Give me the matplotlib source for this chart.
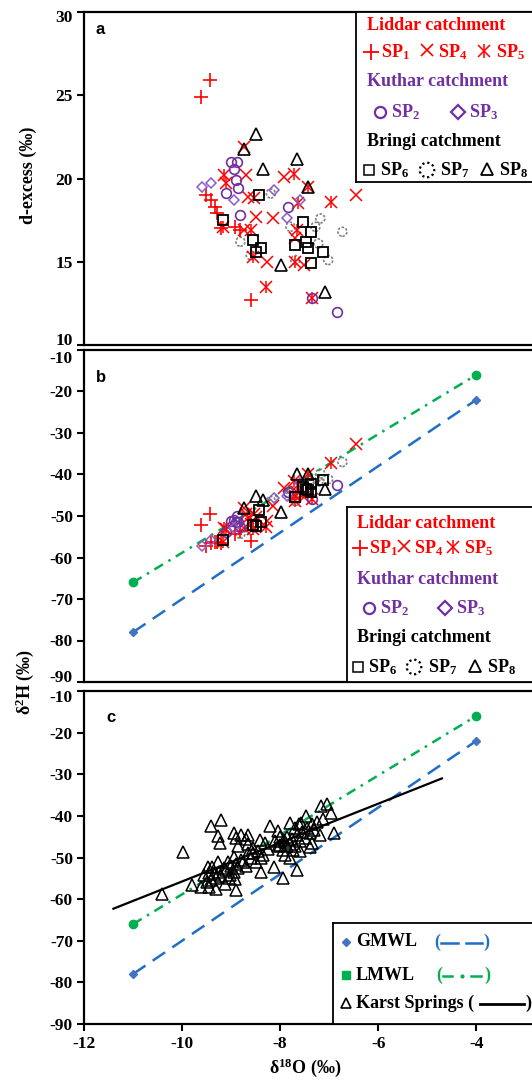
import numpy as np
import matplotlib.pyplot as plt
from matplotlib.transforms import ScaledTranslation

plt.rcParams['font.family'] = ['Liberation Serif', 'DejaVu Serif']
plt.rcParams['font.weight'] = 'bold'
plt.rcParams['axes.unicode_minus'] = False
plt.rcParams['mathtext.fontset'] = 'custom'
plt.rcParams['mathtext.rm'] = 'Liberation Serif:bold'
plt.rcParams['mathtext.it'] = 'Liberation Serif:bold'
plt.rcParams['mathtext.bf'] = 'Liberation Serif:bold'

W, H = 532, 1085
RED = '#FF0000'
PURPLE = '#7030A0'
BLUE = '#1F6FC5'
GREEN = '#00B050'

# spring samples: d18O, d-excess and d2H (per mil)
sp1_d18o = [-9.62, -9.44, -9.52, -9.40, -9.33, -9.28, -9.20, -8.92, -8.60, -8.82]
sp1_dex = [24.9, 25.9, 19.0, 18.7, 18.3, 17.9, 17.0, 17.1, 12.7, 16.9]
sp1_d2h = [-52.1, -49.6, -57.2, -56.5, -56.3, -56.3, -56.6, -54.3, -56.1, -53.7]

sp2_d18o = [-9.01, -8.87, -8.95, -8.91, -8.85, -9.11, -8.81, -7.83, -6.83, -7.34]
sp2_dex = [21.0, 21.0, 20.6, 19.9, 19.4, 19.1, 17.8, 18.3, 12.0, 12.8]
sp2_d2h = [-51.1, -50.0, -51.0, -51.4, -51.4, -53.8, -52.7, -44.3, -42.6, -45.9]

sp3_d18o = [-9.60, -9.42, -8.95, -7.85, -7.59, -8.13]
sp3_dex = [19.5, 19.7, 18.7, 17.6, 18.7, 19.3]
sp3_d2h = [-57.3, -55.7, -52.9, -45.2, -42.0, -45.7]

sp4_d18o = [-8.70, -8.74, -8.54, -8.66, -8.50, -8.15, -7.93, -6.45, -8.26, -7.52, -8.74, -7.70]
sp4_dex = [20.2, 21.9, 18.8, 18.9, 17.7, 17.6, 20.1, 19.0, 15.0, 14.8, 16.9, 16.4]
sp4_d2h = [-49.4, -48.0, -49.5, -50.4, -50.3, -47.6, -43.3, -32.6, -51.1, -45.4, -53.0, -45.2]

sp5_d18o = [-9.15, -7.72, -7.44, -6.97, -7.63, -8.28, -7.34, -7.65, -7.69, -8.56, -9.17, -8.60, -9.11]
sp5_dex = [20.2, 20.3, 19.5, 18.6, 18.5, 13.5, 12.8, 16.9, 15.0, 15.3, 17.1, 16.9, 19.7]
sp5_d2h = [-53.0, -41.5, -40.0, -37.2, -42.5, -52.7, -45.9, -44.3, -46.5, -53.2, -56.3, -51.9, -53.2]

sp6_d18o = [-8.44, -9.17, -8.56, -8.40, -8.50, -7.69, -7.48, -7.44, -7.38, -7.12, -7.38, -7.54]
sp6_dex = [19.0, 17.5, 16.3, 15.8, 15.6, 16.0, 16.2, 15.8, 16.8, 15.6, 14.9, 17.4]
sp6_d2h = [-48.5, -55.9, -52.2, -51.4, -52.4, -45.5, -43.6, -43.7, -42.2, -41.4, -44.1, -42.9]

sp7_d18o = [-8.19, -8.81, -7.79, -7.22, -7.02, -6.73, -7.28, -7.18, -8.60, -7.69]
sp7_dex = [19.1, 16.2, 17.1, 16.1, 15.1, 16.8, 17.1, 17.6, 15.4, 15.1]
sp7_d2h = [-46.4, -54.3, -45.2, -41.7, -41.1, -37.0, -41.1, -39.8, -53.4, -46.4]

sp8_d18o = [-8.50, -8.74, -8.34, -7.65, -7.99, -7.08, -7.44]
sp8_dex = [22.7, 21.8, 20.6, 21.2, 14.8, 13.2, 19.5]
sp8_d2h = [-45.3, -48.1, -46.1, -40.0, -49.1, -43.4, -40.0]

# all karst spring samples
karst_d18o = [-10.40, -9.99, -9.80, -9.62, -9.46, -9.31, -8.90, -7.95, -9.42, -9.21,
              -9.27, -9.22, -8.95, -8.90, -8.66, -8.42, -8.20, -8.05, -7.80, -7.58,
              -7.48, -7.16, -7.04, -6.97, -7.12, -7.18, -6.91, -7.34, -7.65, -8.13,
              -8.40, -8.40, -8.05, -7.93, -7.85, -7.73, -8.85, -8.66, -8.95, -9.07,
              -9.27, -9.48, -9.56, -9.38,
              -9.40, -9.35, -9.30, -9.25, -9.20, -9.15, -9.10, -9.05, -9.00, -8.95,
              -8.90, -8.85, -8.80, -8.75, -9.50, -9.45, -9.12, -9.02, -8.92, -8.70,
              -8.60, -8.55, -8.50, -8.65, -8.55, -8.45, -8.35, -8.25, -8.30, -8.70,
              -8.80,
              -8.10, -8.00, -7.95, -7.90, -7.85, -7.80, -7.75, -7.70, -7.65, -7.60,
              -7.55, -7.50, -7.45, -7.40, -7.35, -7.30, -7.25, -7.90, -7.80, -8.00,
              -7.70, -7.60, -7.40, -7.62]
karst_d2h = [-58.7, -48.6, -56.5, -57.0, -57.0, -57.6, -57.7, -55.0, -42.5, -41.0,
             -44.9, -46.4, -44.0, -45.2, -44.5, -45.7, -42.5, -43.7, -41.6, -41.6,
             -40.1, -37.7, -37.2, -39.2, -40.8, -44.5, -44.0, -46.4, -52.9, -52.4,
             -53.6, -50.0, -47.3, -45.7, -47.3, -48.1, -47.3, -48.8, -49.8, -51.2,
             -51.0, -52.2, -54.1, -52.2,
             -55.5, -54.0, -55.0, -53.5, -54.5, -52.5, -53.0, -55.0, -52.0, -53.5,
             -51.5, -52.5, -50.5, -51.0, -55.8, -53.8, -56.3, -54.2, -55.2, -52.0,
             -50.0, -49.0, -51.2, -46.8, -47.8, -48.5, -49.5, -48.0, -46.5, -45.5,
             -44.5,
             -46.0, -47.0, -48.2, -46.2, -45.0, -46.8, -45.5, -47.2, -44.5, -46.0,
             -43.8, -45.2, -42.8, -44.2, -42.0, -43.3, -41.5, -49.5, -50.2, -45.0,
             -43.0, -48.5, -47.5, -42.0]

# meteoric water lines and karst regression line
mwl_d18o = [-11, -4]
gmwl_d2h = [-78, -22]
lmwl_d2h = [-66, -16]
karst_fit_d18o = [-11.4, -4.7]
karst_fit_d2h = [-62.3, -31.0]

XLIM = (-12, -2.7)
LEFT_PX, RIGHT_PX = 84, 540

fig = plt.figure(figsize=(W / 100, H / 100), dpi=100)


def px_axes(top, bottom, left=LEFT_PX, right=RIGHT_PX):
    return fig.add_axes([left / W, 1 - bottom / H, (right - left) / W, (bottom - top) / H])


def style_axes(ax, ylim, yticks, xticks=False):
    ax.set_xlim(*XLIM)
    ax.set_ylim(*ylim)
    ax.set_yticks(yticks)
    for s in ax.spines.values():
        s.set_linewidth(1.6)
    ax.tick_params(axis='y', direction='out', length=5, width=1.5, labelsize=12.5, pad=3)
    if xticks:
        ax.set_xticks([-12, -10, -8, -6, -4])
        ax.tick_params(axis='x', direction='out', length=5, width=1.5, labelsize=12.5, pad=4)
    else:
        ax.set_xticks([])
    for lab in ax.get_xticklabels() + ax.get_yticklabels():
        lab.set_fontweight('bold')


def nudge_edge_labels(ax, bottom_px, top_px):
    # keep the end labels of stacked panels clear of each other
    ticks = ax.yaxis.get_major_ticks()
    for tick, dy in ((ticks[0], bottom_px), (ticks[-1], top_px)):
        lab = tick.label1
        lab.set_transform(lab.get_transform() + ScaledTranslation(0, -dy / 100, fig.dpi_scale_trans))


def asterisk(ax, x, y, ms=8):
    ax.plot(x, y, ls='none', marker='x', ms=ms, mec=RED, mew=1.1)
    ax.plot(x, y, ls='none', marker='|', ms=ms + 1, mec=RED, mew=1.1)


def plot_springs(ax, which):
    def pick(dex, d2h):
        return dex if which == 'dex' else d2h
    ax.plot(sp1_d18o, pick(sp1_dex, sp1_d2h), ls='none', marker='+', ms=10, mec=RED, mew=1.2)
    ax.plot(sp4_d18o, pick(sp4_dex, sp4_d2h), ls='none', marker='x', ms=9, mec=RED, mew=1.1)
    asterisk(ax, sp5_d18o, pick(sp5_dex, sp5_d2h))
    ax.plot(sp2_d18o, pick(sp2_dex, sp2_d2h), ls='none', marker='o', ms=7, mfc='none', mec=PURPLE, mew=1.2)
    ax.plot(sp3_d18o, pick(sp3_dex, sp3_d2h), ls='none', marker='D', ms=5.5, mfc='none', mec='#8A5CC8', mew=1.1)
    ax.plot(sp6_d18o, pick(sp6_dex, sp6_d2h), ls='none', marker='s', ms=7, mfc='none', mec='black', mew=1.3)
    ax.scatter(sp7_d18o, pick(sp7_dex, sp7_d2h), s=42, facecolors='none', edgecolors='#808080',
               linewidths=1.2, linestyle=(0, (1.5, 1)))
    ax.plot(sp8_d18o, pick(sp8_dex, sp8_d2h), ls='none', marker='^', ms=9, mfc='none', mec='black', mew=1.2)


def plot_mwl(ax):
    ax.plot(mwl_d18o, lmwl_d2h, color=GREEN, lw=1.8, dashes=(4, 2.5, 1, 2.5))
    ax.plot(mwl_d18o, lmwl_d2h, ls='none', marker='o', ms=6, color=GREEN)
    ax.plot(mwl_d18o, gmwl_d2h, color=BLUE, lw=1.8, dashes=(6, 3.5))
    ax.plot(mwl_d18o, gmwl_d2h, ls='none', marker='D', ms=4, color='#4472C4')


def legend_box(left, top, bottom, right=RIGHT_PX):
    lg = px_axes(top, bottom, left, right)
    lg.set_xlim(left, right)
    lg.set_ylim(bottom, top)
    lg.set_xticks([])
    lg.set_yticks([])
    for s in lg.spines.values():
        s.set_linewidth(1.3)
    return lg


def catchment_legend(left, top, bottom, rows, xs):
    lg = legend_box(left, top, bottom)
    kw = dict(va='center', ha='left', fontsize=13, fontweight='bold')
    lg.text(xs['title'], rows[0], 'Liddar catchment', color=RED, **kw)
    lg.plot(xs['m1'], rows[1], marker='+', ms=11, mec=RED, mew=1.3)
    lg.text(xs['t1'], rows[1], 'SP$_1$', color=RED, **kw)
    lg.plot(xs['m4'], rows[1] - 2, marker='x', ms=9, mec=RED, mew=1.2)
    lg.text(xs['t4'], rows[1], 'SP$_4$', color=RED, **kw)
    asterisk(lg, [xs['m5']], [rows[1] - 1], ms=9)
    lg.text(xs['t5'], rows[1], 'SP$_5$', color=RED, **kw)
    lg.text(xs['title'], rows[2], 'Kuthar catchment', color=PURPLE, **kw)
    lg.plot(xs['m2'], rows[3], marker='o', ms=8, mfc='none', mec=PURPLE, mew=1.6)
    lg.text(xs['t2'], rows[3], 'SP$_2$', color=PURPLE, **kw)
    lg.plot(xs['m3'], rows[3], marker='D', ms=7.5, mfc='none', mec=PURPLE, mew=1.6)
    lg.text(xs['t3'], rows[3], 'SP$_3$', color=PURPLE, **kw)
    lg.text(xs['title'], rows[4], 'Bringi catchment', color='black', **kw)
    lg.plot(xs['m6'], rows[5], marker='s', ms=7.5, mfc='none', mec='black', mew=1.1)
    lg.text(xs['t6'], rows[5], 'SP$_6$', color='black', **kw)
    lg.scatter([xs['m7']], [rows[5]], s=110, facecolors='none', edgecolors='black',
               linewidths=1.6, linestyle=(0, (1, 1.3)))
    lg.text(xs['t7'], rows[5], 'SP$_7$', color='black', **kw)
    lg.plot(xs['m8'], rows[5] - 1, marker='^', ms=9, mfc='none', mec='black', mew=1.3)
    lg.text(xs['t8'], rows[5], 'SP$_8$', color='black', **kw)


def panel_letter(x, y, s):
    fig.text(x / W, 1 - y / H, s, family='Liberation Sans', fontsize=12, fontweight='bold', va='center')


# panel a: d-excess
ax_a = px_axes(12, 345)
plot_springs(ax_a, 'dex')
style_axes(ax_a, (10, 30), [10, 15, 20, 25, 30])
nudge_edge_labels(ax_a, -6, 4)
panel_letter(96, 30, 'a')
catchment_legend(356, 12, 182, [25, 52, 81, 112, 142, 170],
                 dict(title=367, m1=371, t1=381, m4=427, t4=438, m5=484, t5=496,
                      m2=380, t2=391, m3=458, t3=469, m6=369, t6=380, m7=427, t7=440, m8=487, t8=499))

# panel b: d2H of the individual springs
ax_b = px_axes(350, 682)
plot_mwl(ax_b)
plot_springs(ax_b, 'd2h')
style_axes(ax_b, (-90, -10), list(range(-90, 0, 10)))
nudge_edge_labels(ax_b, -6, 7)
panel_letter(96, 378, 'b')
catchment_legend(347, 507, 682, [523, 548, 580, 608, 638, 667],
                 dict(title=357, m1=360, t1=369, m4=404, t4=414, m5=453, t5=464,
                      m2=369, t2=380, m3=445, t3=456, m6=358, t6=368, m7=414, t7=428, m8=475, t8=487))

# panel c: all karst springs with regression line
ax_c = px_axes(691, 1024)
plot_mwl(ax_c)
ax_c.plot(karst_fit_d18o, karst_fit_d2h, color='black', lw=1.6)
ax_c.plot(karst_d18o, karst_d2h, ls='none', marker='^', ms=8.5, mfc='none', mec='black', mew=1.1)
style_axes(ax_c, (-90, -10), list(range(-90, 0, 10)), xticks=True)
nudge_edge_labels(ax_c, 0, 5)
panel_letter(106, 717, 'c')

lg = legend_box(333, 923, 1024)
kw = dict(va='center', ha='left', fontsize=13, fontweight='bold')
lg.plot(346, 942, marker='D', ms=4.5, color='#4472C4')
lg.text(356, 942, 'GMWL', **kw)
lg.text(434, 942, '(', color=BLUE, **kw)
lg.plot([441, 458], [943, 943], color=BLUE, lw=1.8)
lg.plot([466, 482], [943, 943], color=BLUE, lw=1.8)
lg.text(483, 942, ')', color=BLUE, **kw)
lg.plot(346, 975, marker='s', ms=6, color=GREEN)
lg.text(356, 975, 'LMWL', **kw)
lg.text(436, 975, '(', color=GREEN, **kw)
lg.plot([443, 452], [976, 976], color=GREEN, lw=1.8)
lg.plot(462, 976, marker='o', ms=2, color=GREEN)
lg.plot([471, 481], [976, 976], color=GREEN, lw=1.8)
lg.text(484, 975, ')', color=GREEN, **kw)
lg.plot(346, 1003, marker='^', ms=7, mfc='none', mec='black', mew=1.2)
lg.text(356, 1003, 'Karst Springs (', **kw)
lg.plot([480, 524], [1004, 1004], color='black', lw=2)
lg.text(525, 1003, ')', **kw)

# axis titles
fig.text(28 / W, 1 - 175 / H, 'd-excess (‰)', rotation=90, ha='center', va='center', fontsize=13)
fig.text(25 / W, 1 - 682 / H, 'δ$^{2}$H (‰)', rotation=90, ha='center', va='center', fontsize=13)
fig.text(305 / W, 1 - 1068 / H, 'δ$^{18}$O (‰)', ha='center', va='center', fontsize=13)

fig.savefig('out.png', dpi=100)
